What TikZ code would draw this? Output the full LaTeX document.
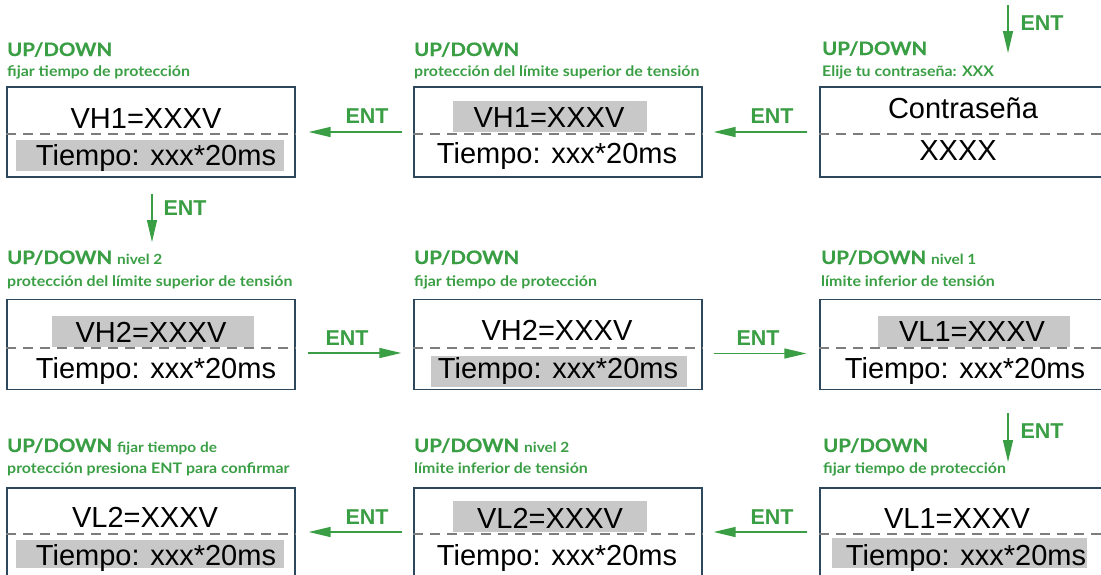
\documentclass[tikz,border=0pt]{standalone}
\usepackage{fontspec}
\setmainfont{Liberation Sans}
\newfontfamily\hdrfont{Lato}[FakeStretch=1.1]
\newfontfamily\updfont{Lato}[FakeStretch=1.1,FakeBold=0.6]
\newcommand\lvlfont{\hdrfont\bfseries\fontsize{14}{15}\selectfont}
\usetikzlibrary{arrows.meta,calc}
\definecolor{entgreen}{RGB}{58,158,68}
\definecolor{framecol}{RGB}{45,72,92}
\definecolor{hilite}{RGB}{200,200,200}
\definecolor{dashgrey}{RGB}{125,125,125}
\begin{document}
\begin{tikzpicture}[x=1pt,y=-1pt,
  screen/.style={draw=framecol,line width=1.3pt,minimum width=288pt,minimum height=90pt,inner sep=0pt},
  lcd/.style={font=\fontsize{29}{30}\selectfont,anchor=base,inner sep=0pt},
  hl/.style={fill=hilite},
  upd/.style={anchor=base west,inner sep=0pt,text=entgreen,font=\updfont\bfseries\fontsize{18.5}{20}\selectfont},
  sub/.style={anchor=base west,inner sep=0pt,text=entgreen,font=\hdrfont\bfseries\fontsize{14.5}{15}\selectfont},
  ent/.style={text=entgreen,font=\bfseries\fontsize{21.5}{22}\selectfont,inner sep=0pt},
  flow/.style={draw=entgreen,line width=1.4pt,-{Triangle[length=22pt,width=10pt]}},
  sep/.style={draw=dashgrey,line width=1.3pt,dash pattern=on 10pt off 7pt}
]
\useasboundingbox (0,0) rectangle (1101,574);
\clip (0,0) rectangle (1101,574);

% ---- display screens
\node[screen] (b11) at (151,132) {};
\node[screen] (b12) at (558,132) {};
\node[screen] (b13) at (964,132) {};
\node[screen] (b21) at (151,344.5) {};
\node[screen] (b22) at (558,344.5) {};
\node[screen] (b23) at (964,344.5) {};
\node[screen] (b31) at (151,533) {};
\node[screen] (b32) at (558,533) {};
\node[screen] (b33) at (964,533) {};

% ---- highlighted fields
\fill[hl] (16,140) rectangle (284,171);
\fill[hl] (453,101) rectangle (647,132);
\fill[hl] (52,316) rectangle (254,347);
\fill[hl] (431,356) rectangle (687,387);
\fill[hl] (878,316) rectangle (1070,347);
\fill[hl] (16,540) rectangle (284,568);
\fill[hl] (453,501) rectangle (647,532);
\fill[hl] (832,538) rectangle (1087,568);

% ---- dashed separators
\foreach \b/\d in {b11/2,b12/2,b13/2,b21/3.5,b22/3.5,b23/3.5,b31/1,b32/1,b33/1}
  \draw[sep] ($(\b.west)+(0,\d)$) -- ($(\b.east)+(0,\d)$);

% ---- screen texts
\node[lcd] (t11a) at (146,128) {VH1=XXXV};
\node[lcd] (t11b) at (156,165) {Tiempo: xxx*20ms};
\node[lcd] (t12a) at (549,127) {VH1=XXXV};
\node[lcd] (t12b) at (557,163) {Tiempo: xxx*20ms};
\node[lcd] (t13a) at (963,118) {Contraseña};
\node[lcd] (t13b) at (958,160) {XXXX};
\node[lcd] (t21a) at (151,342) {VH2=XXXV};
\node[lcd] (t21b) at (156,378) {Tiempo: xxx*20ms};
\node[lcd] (t22a) at (557,340) {VH2=XXXV};
\node[lcd] (t22b) at (558,378) {Tiempo: xxx*20ms};
\node[lcd] (t23a) at (972,341) {VL1=XXXV};
\node[lcd] (t23b) at (965,378) {Tiempo: xxx*20ms};
\node[lcd] (t31a) at (145,527) {VL2=XXXV};
\node[lcd] (t31b) at (156,565) {Tiempo: xxx*20ms};
\node[lcd] (t32a) at (550,528) {VL2=XXXV};
\node[lcd] (t32b) at (557,565) {Tiempo: xxx*20ms};
\node[lcd] (t33a) at (957,528) {VL1=XXXV};
\node[lcd] (t33b) at (966,565) {Tiempo: xxx*20ms};

% ---- headers
\node[upd] (h11) at (7,56) {UP/DOWN};
\node[sub] (s11) at (7,76) {fijar tiempo de protección};
\node[upd] (h12) at (414,56) {UP/DOWN};
\node[sub] (s12) at (414,76) {protección del límite superior de tensión};
\node[upd] (h13) at (822,55) {UP/DOWN};
\node[sub] (s13) at (822,76) {Elije tu contraseña: XXX};
\node[upd] (h21) at (7,264) {UP/DOWN\hspace{5pt}{\lvlfont nivel 2}};
\node[sub] (s21) at (7,286) {protección del límite superior de tensión};
\node[upd] (h22) at (414,264) {UP/DOWN};
\node[sub] (s22) at (414,286) {fijar tiempo de protección};
\node[upd] (h23) at (821,264) {UP/DOWN\hspace{5pt}{\lvlfont nivel 1}};
\node[sub] (s23) at (821,286) {límite inferior de tensión};
\node[upd] (h31) at (7,452) {UP/DOWN\hspace{5pt}{\lvlfont fijar tiempo de}};
\node[sub] (s31) at (7,473) {protección presiona ENT para confirmar};
\node[upd] (h32) at (414,452) {UP/DOWN\hspace{5pt}{\lvlfont nivel 2}};
\node[sub] (s32) at (414,473) {límite inferior de tensión};
\node[upd] (h33) at (823,452) {UP/DOWN};
\node[sub] (s33) at (823,473) {fijar tiempo de protección};

% ---- ENT transitions
\draw[flow] ($(b12.west)+(-11,0)$) -- ($(b11.east)+(13,0)$);
\node[ent] at (367,116) {ENT};
\draw[flow] ($(b13.west)+(-12,0)$) -- ($(b12.east)+(11,0)$);
\node[ent] at (772,116) {ENT};
\draw[flow] ($(b21.east)+(12,8.5)$) -- ($(b22.west)+(-12,8.5)$);
\node[ent] at (347,338) {ENT};
\draw[flow] ($(b22.east)+(11,9)$) -- ($(b23.west)+(-13,9)$);
\node[ent] at (758,338) {ENT};
\draw[flow] ($(b33.west)+(-12,-1)$) -- ($(b32.east)+(11,-1)$);
\node[ent] at (772,517) {ENT};
\draw[flow] ($(b32.west)+(-11,-1)$) -- ($(b31.east)+(13,-1)$);
\node[ent] at (367,517) {ENT};

\coordinate (in13a) at (1008,5);
\coordinate (in13b) at (1008,53);
\draw[flow] (in13a) -- (in13b);
\node[ent] at (1042,23) {ENT};
\coordinate (d21) at (152,242);
\draw[flow] ($(b11.south)+(1,16)$) -- (d21);
\node[ent] at (185,208) {ENT};
\coordinate (d33) at (1008,462);
\draw[flow] ($(b23.south)+(44,23)$) -- (d33);
\node[ent] at (1042,431) {ENT};
\end{tikzpicture}
\end{document}
